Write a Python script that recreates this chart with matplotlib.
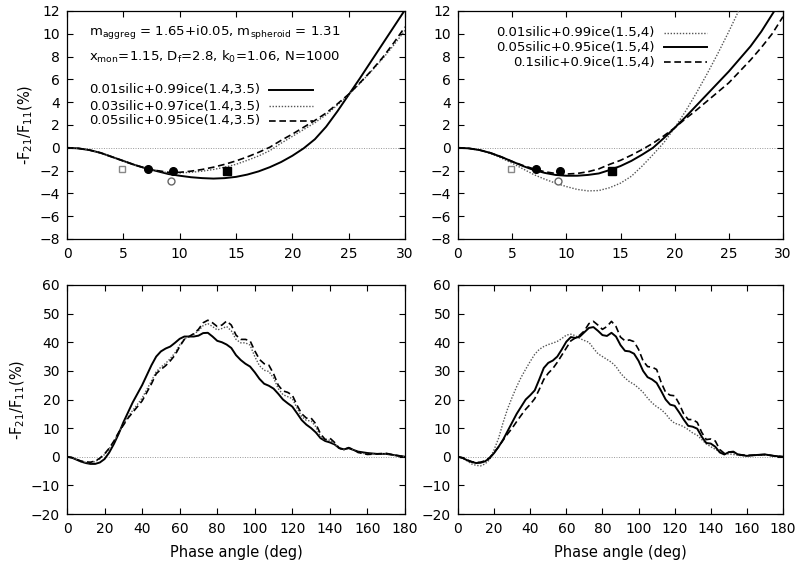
import numpy as np
import matplotlib
matplotlib.use("Agg")
import matplotlib.pyplot as plt
from matplotlib.lines import Line2D

plt.rcParams['font.family'] = ['DejaVu Sans']
plt.rcParams['mathtext.fontset'] = 'dejavusans'

# ---------------- data ----------------
# top panels: phase angle 0..30 deg, step 1
ang_top = list(range(0, 31))

tl_s01 = [0, -0.05, -0.2, -0.45, -0.8, -1.15, -1.5, -1.8, -2.05, -2.3, -2.45, -2.58, -2.66, -2.7, -2.66,
          -2.55, -2.35, -2.07, -1.7, -1.25, -0.7, -0.05, 0.75, 1.85, 3.2, 4.65, 6.1, 7.6, 9.1, 10.6, 12.1]
tl_s03 = [0, -0.05, -0.2, -0.45, -0.8, -1.15, -1.5, -1.8, -2.0, -2.2, -2.2, -2.15, -2.05, -1.9, -1.7,
          -1.45, -1.1, -0.72, -0.25, 0.4, 1.0, 1.6, 2.2, 2.9, 3.75, 4.65, 5.65, 6.7, 7.8, 9.0, 10.3]
tl_s05 = [0, -0.05, -0.2, -0.45, -0.8, -1.15, -1.5, -1.8, -2.0, -2.15, -2.15, -2.05, -1.9, -1.7, -1.45,
          -1.15, -0.8, -0.4, 0.05, 0.65, 1.2, 1.8, 2.4, 3.05, 3.85, 4.7, 5.7, 6.75, 7.9, 9.2, 10.6]

tr_s01 = [0, -0.05, -0.2, -0.5, -0.9, -1.35, -1.85, -2.35, -2.75, -3.1, -3.4, -3.65, -3.78, -3.75, -3.5,
          -3.1, -2.5, -1.6, -0.6, 0.45, 1.75, 3.2, 4.8, 6.5, 8.3, 10.2, 12.2, 14.3, 16.5, 18.8, 21.2]
tr_s05 = [0, -0.05, -0.2, -0.45, -0.8, -1.2, -1.6, -1.95, -2.2, -2.38, -2.45, -2.45, -2.38, -2.25, -1.95,
          -1.6, -1.15, -0.6, 0.0, 0.85, 1.75, 2.7, 3.7, 4.7, 5.7, 6.7, 7.8, 8.9, 10.2, 11.7, 13.2]
tr_s10 = [0, -0.05, -0.2, -0.45, -0.8, -1.2, -1.55, -1.85, -2.1, -2.25, -2.3, -2.25, -2.1, -1.85, -1.45,
          -1.1, -0.65, -0.15, 0.4, 1.05, 1.75, 2.55, 3.3, 4.1, 4.9, 5.7, 6.7, 7.7, 8.8, 10.0, 11.5]

# observations (open square, filled circles, open circle, filled square)
obs_osq_x, obs_osq_y = [4.9], [-1.9]
obs_fc_x, obs_fc_y = [7.2, 9.4], [-1.9, -2.0]
obs_oc_x, obs_oc_y = [9.2], [-2.95]
obs_fsq_x, obs_fsq_y = [14.2], [-2.0]

# bottom panels: phase angle 0..180 deg
ang_bot = [0, 2.5, 5, 7.5, 10, 12.5, 15, 17.5, 20, 22.5, 25, 27.5, 30, 32.5, 35, 37.5, 40, 42.5, 45, 47.5,
           50, 52.5, 55, 57.5, 60, 62.5, 65, 67.5, 70, 72.5, 75, 77.5, 80, 82.5, 85, 87.5, 90, 92.5, 95, 97.5,
           100, 102.5, 105, 107.5, 110, 112.5, 115, 117.5, 120, 122.5, 125, 127.5, 130, 132.5, 135, 137.5,
           140, 142.5, 145, 147.5, 150, 152.5, 155, 160, 165, 170, 175, 180]

bl_s01 = [0, -0.3, -1.0, -1.7, -2.2, -2.5, -2.5, -2.0, -0.8, 1.5, 4.5, 8, 12, 15.5, 19, 22, 25, 28.5, 32, 35,
          36.8, 37.8, 38.5, 39.8, 41.2, 42, 42, 42, 42.3, 43.2, 43.3, 42, 40.5, 40, 39.2, 38, 35.5, 33.8, 32.5, 31.5,
          29.5, 27.2, 25.5, 24.8, 23.8, 22, 20, 18.7, 17.5, 15.2, 12.8, 11.2, 10, 8.5, 6.5, 5.5,
          5.0, 4.3, 3.0, 2.6, 3.0, 2.4, 1.8, 1.3, 1.0, 1.0, 0.5, 0]
bl_s03 = [0, -0.3, -0.9, -1.6, -2.0, -2.1, -1.7, -0.7, 0.8, 2.8, 5.3, 8.5, 11.3, 14, 16.2, 18.3, 20.5, 23.5, 26.5, 29.7,
          31.3, 32.6, 34.3, 36.3, 39, 41.2, 42, 42.8, 44, 45.8, 46.5, 45.5, 44.3, 44.8, 45.5, 44, 41, 39.8, 39.8, 39,
          35, 31.8, 30.2, 29.8, 27.5, 23.8, 21.7, 21, 20.3, 17, 14, 12.7, 12.5, 10.5, 7, 5.8,
          5.8, 4.5, 2.8, 2.4, 3.0, 2.3, 1.5, 0.9, 1.0, 1.0, 0.4, 0]
bl_s05 = [0, -0.3, -0.9, -1.5, -1.8, -1.9, -1.5, -0.5, 1.0, 3.0, 5.5, 8.5, 11, 13.5, 15.5, 17.5, 19.5, 22.5, 25.5, 29,
          30.5, 31.8, 33.5, 35.5, 38.5, 41, 42, 43, 44.5, 46.8, 47.7, 46.8, 45.5, 46, 47.4, 46, 42.5, 41, 41, 40.5,
          37, 34, 32.5, 32, 29, 25, 23, 22.5, 21.5, 18, 15, 13.5, 13.5, 11.5, 8, 6,
          6.5, 5, 3, 2.5, 3.2, 2.5, 1.5, 0.8, 1.0, 1.2, 0.5, 0]

br_s01 = [0, -0.4, -1.4, -2.5, -3.0, -3.2, -2.5, -1.0, 2.5, 6.5, 12, 16.8, 20.8, 24.5, 27.8, 30.6, 33.3, 35.8, 37.5, 38.5,
          39.2, 39.7, 40.3, 41.3, 42.5, 42.8, 42.3, 41.3, 40.6, 40, 37.9, 36, 35, 34, 33, 31.5, 29.2, 27.5, 26.2, 25.3,
          24, 22.5, 20.5, 18.8, 17.5, 16.5, 15, 13, 11.7, 11.2, 10.5, 9.5, 8.3, 7.5, 6, 4.5,
          3.5, 2.6, 1.8, 0.8, 1.0, 0.8, 0.5, 0.3, 0.5, 0.6, 0.3, 0]
br_s05 = [0, -0.4, -1.2, -1.8, -2.2, -2.1, -1.6, -0.5, 1.3, 3.5, 6, 9, 12, 15, 17.5, 20, 21.5, 23.2, 27, 31,
          32.8, 33.6, 35, 37.5, 40.2, 41.8, 41.5, 42, 43.5, 45, 45.3, 44, 42.5, 42.2, 43.3, 42, 39, 37, 36.8, 36,
          33.5, 30, 27.8, 27, 25.8, 23, 20, 18.2, 17.8, 15.5, 13, 10.8, 10.5, 9.8, 7, 4.8,
          4.6, 3.5, 1.5, 0.8, 1.6, 1.8, 0.8, 0.3, 0.6, 0.8, 0.3, 0]
br_s10 = [0, -0.4, -1.1, -1.7, -2.0, -1.9, -1.4, -0.3, 1.5, 3.5, 5.8, 8, 10, 12.3, 14.5, 16.6, 18.3, 20.3, 23.5, 27,
          29.2, 30.8, 33, 35.5, 38, 40.5, 41.5, 42.5, 44, 46.5, 47.3, 46, 44.5, 45.5, 47.3, 45.5, 41.8, 40.5, 40.8, 40.2,
          37.5, 33.5, 31.5, 31.3, 30.5, 26, 22.5, 21.5, 21.3, 18.5, 15, 13, 13, 12, 8.5, 6,
          6.2, 5.5, 2.5, 1.2, 1.6, 1.6, 0.8, 0.5, 0.6, 0.8, 0.3, 0]

lab_tl = ["0.01silic+0.99ice(1.4,3.5)", "0.03silic+0.97ice(1.4,3.5)", "0.05silic+0.95ice(1.4,3.5)"]
lab_tr = ["0.01silic+0.99ice(1.5,4)", "0.05silic+0.95ice(1.5,4)", "0.1silic+0.9ice(1.5,4)"]

# ---------------- styles ----------------
SOLID = dict(color='black', lw=1.4, ls='-')
DOTTED = dict(color='#555555', lw=1.0, ls=(0, (1, 1.2)))
DASHED = dict(color='black', lw=1.2, ls=(0, (4, 2.2)))
FS = 9.5
TFS = 10

fig = plt.figure(figsize=(8.0, 5.66), dpi=100)
W, H = 800.0, 566.0

def make_ax(x0, x1, ytop, ybot):
    return fig.add_axes([x0 / W, 1 - ybot / H, (x1 - x0) / W, (ybot - ytop) / H])

ax_tl = make_ax(67, 405, 11, 239)
ax_tr = make_ax(458, 783, 11, 239)
ax_bl = make_ax(67, 405, 285, 514)
ax_br = make_ax(458, 783, 285, 514)

def style(ax, xlim, xt, ylim, yt):
    ax.set_xlim(*xlim)
    ax.set_ylim(*ylim)
    ax.set_xticks(xt)
    ax.set_yticks(yt)
    ax.tick_params(direction='in', length=4, width=0.8, top=True, right=True,
                   labelsize=TFS, pad=5, colors='black')
    ax.tick_params(axis='x', pad=6)
    for s in ax.spines.values():
        s.set_linewidth(0.9)
    ax.axhline(0, color='#999999', lw=0.7, ls=(0, (1, 1.5)), zorder=1)

for ax in (ax_tl, ax_tr):
    style(ax, (0, 30), range(0, 31, 5), (-8, 12), range(-8, 13, 2))
for ax in (ax_bl, ax_br):
    style(ax, (0, 180), range(0, 181, 20), (-20, 60), range(-20, 61, 10))

ylab = r"-F$_{21}$/F$_{11}$(%)"
ax_tl.set_ylabel(ylab, fontsize=TFS + 0.5, labelpad=3)
ax_bl.set_ylabel(ylab, fontsize=TFS + 0.5, labelpad=3)
ax_bl.set_xlabel("Phase angle (deg)", fontsize=TFS + 0.5, labelpad=6)
ax_br.set_xlabel("Phase angle (deg)", fontsize=TFS + 0.5, labelpad=6)

# ---- top-left ----
ax_tl.plot(ang_top, tl_s01, **SOLID, zorder=3)
ax_tl.plot(ang_top, tl_s03, **DOTTED, zorder=3)
ax_tl.plot(ang_top, tl_s05, **DASHED, zorder=3)

# ---- top-right ----
ax_tr.plot(ang_top, tr_s01, **DOTTED, zorder=3)
ax_tr.plot(ang_top, tr_s05, **SOLID, zorder=3)
ax_tr.plot(ang_top, tr_s10, **DASHED, zorder=3)

for ax in (ax_tl, ax_tr):
    ax.plot(obs_osq_x, obs_osq_y, ls='none', marker='s', ms=5, mfc='white', mec='#888888', mew=1.0, zorder=5)
    ax.plot(obs_fc_x, obs_fc_y, ls='none', marker='o', ms=5.5, mfc='black', mec='black', zorder=5)
    ax.plot(obs_oc_x, obs_oc_y, ls='none', marker='o', ms=5, mfc='white', mec='#666666', mew=1.0, zorder=5)
    ax.plot(obs_fsq_x, obs_fsq_y, ls='none', marker='s', ms=5.5, mfc='black', mec='black', zorder=5)

# ---- bottom ----
ax_bl.plot(ang_bot, bl_s01, **SOLID, zorder=3)
ax_bl.plot(ang_bot, bl_s03, **DOTTED, zorder=3)
ax_bl.plot(ang_bot, bl_s05, **DASHED, zorder=3)

ax_br.plot(ang_bot, br_s01, **DOTTED, zorder=3)
ax_br.plot(ang_bot, br_s05, **SOLID, zorder=3)
ax_br.plot(ang_bot, br_s10, **DASHED, zorder=3)

# ---- annotations ----
ax_tl.text(0.065, 0.904, r"m$_{\rm aggreg}$ = 1.65+i0.05, m$_{\rm spheroid}$ = 1.31",
           transform=ax_tl.transAxes, fontsize=FS, ha='left', va='center')
ax_tl.text(0.065, 0.798, r"x$_{\rm mon}$=1.15, D$_{\rm f}$=2.8, k$_{\rm 0}$=1.06, N=1000",
           transform=ax_tl.transAxes, fontsize=FS, ha='left', va='center')

# ---- legends (gnuplot style) ----
def key(ax, labels, styles, ys, xtext, ha, xl0, xl1):
    for lab, st, y in zip(labels, styles, ys):
        ax.text(xtext, y, lab, transform=ax.transAxes, fontsize=FS, ha=ha, va='center')
        ax.add_line(Line2D([xl0, xl1], [y, y], transform=ax.transAxes, **st))

key(ax_tl, lab_tl, [SOLID, DOTTED, DASHED], [0.654, 0.583, 0.518], 0.065, 'left', 0.598, 0.728)
key(ax_tr, lab_tr, [DOTTED, SOLID, DASHED], [0.904, 0.842, 0.776], 0.606, 'right', 0.634, 0.766)

fig.savefig("out.png", dpi=100)
